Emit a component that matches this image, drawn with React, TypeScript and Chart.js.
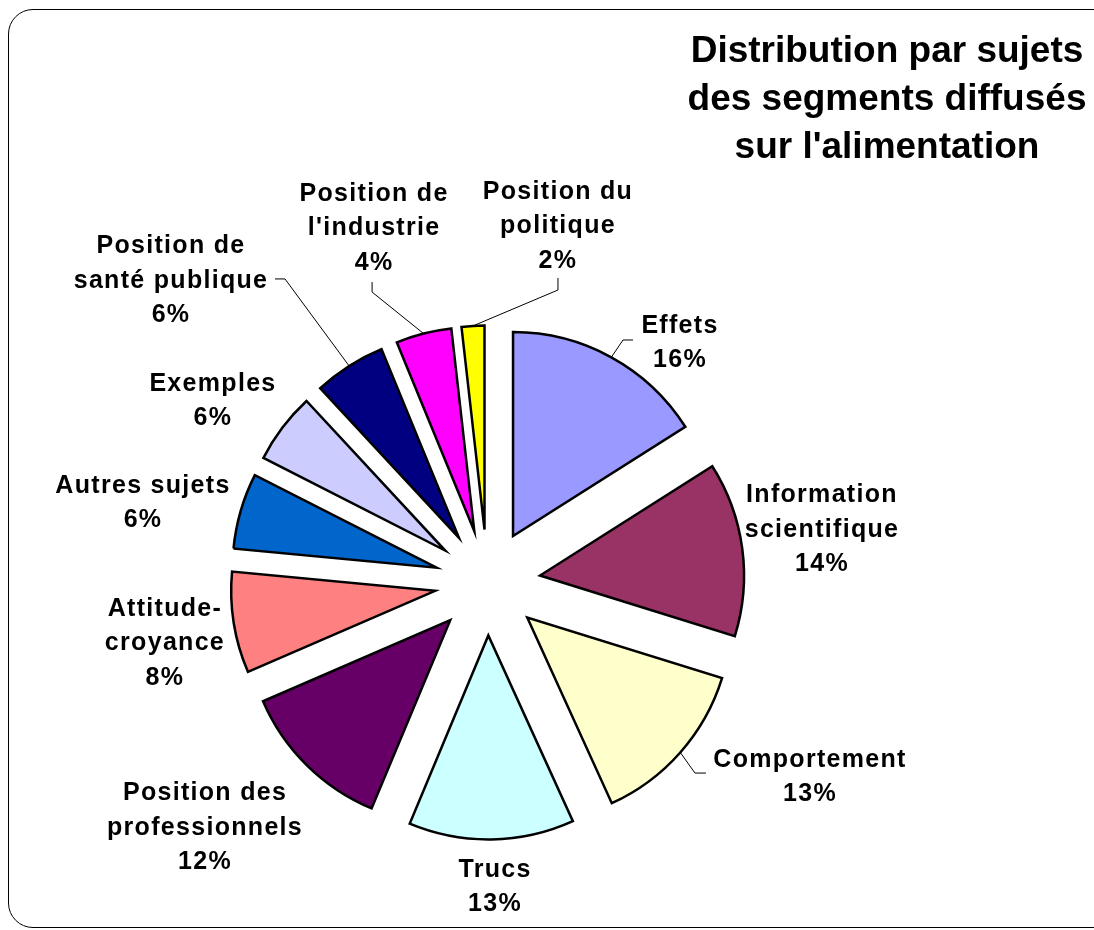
import { useEffect, useRef } from 'react';
import { Chart, PieController, ArcElement } from 'chart.js';

Chart.register(PieController, ArcElement);

// ---- data ----
const categories = [
  'Effets',
  'Information scientifique',
  'Comportement',
  'Trucs',
  'Position des professionnels',
  'Attitude-croyance',
  'Autres sujets',
  'Exemples',
  'Position de santé publique',
  "Position de l'industrie",
  'Position du politique',
];
const labelLines = [
  ['Effets'],
  ['Information', 'scientifique'],
  ['Comportement'],
  ['Trucs'],
  ['Position des', 'professionnels'],
  ['Attitude-', 'croyance'],
  ['Autres sujets'],
  ['Exemples'],
  ['Position de', 'santé publique'],
  ['Position de', "l'industrie"],
  ['Position du', 'politique'],
];
// shares (%); labels show them rounded
const shares = [16.0, 13.8, 13.4, 13.1, 12.2, 8.0, 6.0, 5.6, 5.7, 4.4, 1.8];
const sliceColors = [
  '#9999FF', '#993366', '#FFFFCC', '#CCFFFF', '#660066', '#FF8080',
  '#0066CC', '#CCCCFF', '#000080', '#FF00FF', '#FFFF00',
];
const titleLines = ['Distribution par sujets', 'des segments diffusés', "sur l'alimentation"];

// ---- styling (label placement relative to each slice's outer mid-point) ----
const EXPLODE = 53;
const RADIUS = 204;
const labelShift: [number, number][] = [
  [68.7, -16.3], [79.7, -20.7], [129.7, 22.6], [3.5, 45.5], [-101.9, 60.6], [-68.7, 18.3],
  [-97.7, -9.8], [-69.5, -28.5], [-178.1, -87], [-49.5, -107.5], [85, -101.9],
];
// leader line points relative to label centre (last point is the slice edge)
const leaders: ([number, number][] | null)[] = [
  [[-47, -1], [-57, -1]],
  null,
  [[-104, -2], [-115, -2]],
  null,
  null,
  null,
  null,
  null,
  [[104, 0], [114, 0]],
  [[-2, 56], [-2, 66]],
  [[0, 54], [0, 66]],
];
const LABEL_FONT = 'bold 25px "Liberation Sans", Arial, sans-serif';
const LINE_H = 34.5;
const CAP = 18;

// Explodes every slice by the same distance along its bisector (uniform, like the original)
const explodeSlices = {
  id: 'explodeSlices',
  afterDatasetUpdate(chart: any, args: any) {
    args.meta.data.forEach((arc: any) => {
      const mid = (arc.startAngle + arc.endAngle) / 2;
      arc.x += Math.cos(mid) * EXPLODE;
      arc.y += Math.sin(mid) * EXPLODE;
    });
  },
};

const labelPlugin = {
  id: 'sliceLabels',
  afterDatasetsDraw(chart: any) {
    const ctx: CanvasRenderingContext2D = chart.ctx;
    const meta = chart.getDatasetMeta(0);
    const total = shares.reduce((a, b) => a + b, 0);
    ctx.save();
    meta.data.forEach((arc: any, i: number) => {
      const { x, y, startAngle, endAngle, outerRadius } = arc.getProps(
        ['x', 'y', 'startAngle', 'endAngle', 'outerRadius'],
        true
      );
      const mid = (startAngle + endAngle) / 2;
      const ex = x + Math.cos(mid) * outerRadius;
      const ey = y + Math.sin(mid) * outerRadius;
      const lx = ex + labelShift[i][0];
      const ly = ey + labelShift[i][1];
      const lines = [...labelLines[i], `${Math.round((shares[i] / total) * 100)}%`];
      ctx.font = LABEL_FONT;
      (ctx as any).letterSpacing = '1.3px';
      ctx.fillStyle = '#000';
      ctx.textAlign = 'center';
      ctx.textBaseline = 'alphabetic';
      const top = ly - ((lines.length - 1) * LINE_H) / 2 + CAP / 2;
      lines.forEach((t, k) => ctx.fillText(t, lx, top + k * LINE_H));
      const ld = leaders[i];
      if (ld) {
        ctx.beginPath();
        ctx.lineWidth = 1;
        ctx.strokeStyle = '#000';
        ctx.moveTo(lx + ld[0][0], ly + ld[0][1]);
        for (let k = 1; k < ld.length; k++) ctx.lineTo(lx + ld[k][0], ly + ld[k][1]);
        ctx.lineTo(ex, ey);
        ctx.stroke();
      }
    });
    // title
    (ctx as any).letterSpacing = '0px';
    ctx.font = 'bold 37px "Liberation Sans", Arial, sans-serif';
    ctx.textAlign = 'center';
    ctx.fillStyle = '#000';
    titleLines.forEach((t, k) => ctx.fillText(t, 887, 62 + k * 48));
    ctx.restore();
  },
};

export default function App() {
  const ref = useRef<HTMLCanvasElement>(null);
  useEffect(() => {
    const chart = new Chart(ref.current as HTMLCanvasElement, {
      type: 'pie',
      data: {
        labels: categories,
        datasets: [
          {
            data: shares,
            backgroundColor: sliceColors,
            borderColor: '#000000',
            borderWidth: 2.5,
            borderJoinStyle: 'miter',
            radius: RADIUS,
          } as any,
        ],
      },
      options: {
        responsive: false,
        animation: false,
        events: [],
        layout: { padding: { left: 0, right: 119, top: 235, bottom: 0 } },
      },
      plugins: [explodeSlices, labelPlugin],
    });
    return () => chart.destroy();
  }, []);
  return (
    <div style={{ position: 'fixed', left: 0, top: 0, width: 1094, height: 930, overflow: 'hidden', background: '#fff' }}>
      <div
        style={{
          position: 'absolute', left: 8, top: 9, width: 1110, height: 919,
          border: '1px solid #000', borderRadius: 25, boxSizing: 'border-box',
        }}
      />
      <canvas
        ref={ref}
        width={1094}
        height={930}
        style={{ position: 'absolute', left: 0, top: 0, width: 1094, height: 930 }}
      />
    </div>
  );
}
